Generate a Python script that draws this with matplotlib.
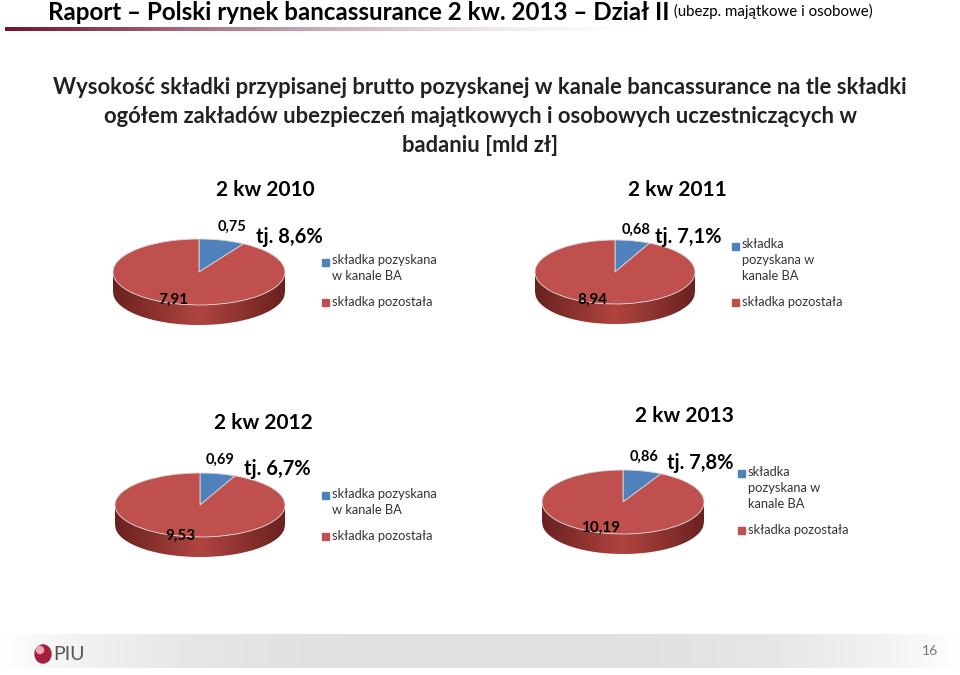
import matplotlib
matplotlib.use("Agg")
import matplotlib.pyplot as plt
from matplotlib.patches import Rectangle, Polygon, Ellipse
from matplotlib.colors import LinearSegmentedColormap
import numpy as np

plt.rcParams['font.family'] = ['Lato', 'DejaVu Sans']

# ---- data ----
periods = ['2 kw 2010', '2 kw 2011', '2 kw 2012', '2 kw 2013']
premium_ba = [0.75, 0.68, 0.69, 0.86]
premium_other = [7.91, 8.94, 9.53, 10.19]
share_labels = ['tj. 8,6%', 'tj. 7,1%', 'tj. 6,7%', 'tj. 7,8%']
legend_ba = ['składka pozyskana\nw kanale BA', 'składka\npozyskana w\nkanale BA',
             'składka pozyskana\nw kanale BA', 'składka\npozyskana w\nkanale BA']
legend_other = 'składka pozostała'

title = 'Raport – Polski rynek bancassurance 2 kw. 2013 – Dział II'
title_small = ' (ubezp. majątkowe i osobowe)'
subtitle = ['Wysokość składki przypisanej brutto pozyskanej w kanale bancassurance na tle składki',
            'ogółem zakładów ubezpieczeń majątkowych i osobowych uczestniczących w',
            'badaniu [mld zł]']

BLUE = '#4f81bd'
RED = '#c0504d'
NARROW = ['Liberation Sans Narrow', 'Lato', 'DejaVu Sans']

# ---- layout (pixels) ----
W, H = 960, 675
# pie: centre x, centre y, half width, half height, depth
pies = [(199, 272, 86, 33, 20), (615, 272, 80, 32, 20),
        (200, 505, 85, 32, 20), (623, 502, 81, 32, 20)]
period_pos = [(265, 190), (677, 190), (263, 423), (684, 416)]
ba_off = [(33, -45), (21, -42), (20, -45), (21, -45)]
oth_off = [(-26, 28), (-23, 28), (-20, 31), (-22, 26)]
share_pos = [(256, 237), (655, 237), (244, 469), (667, 463)]
legend_pos = [(325, 262, 302), (735, 246, 302), (325, 495, 536), (741, 473, 530)]

fig = plt.figure(figsize=(W / 100, H / 100), dpi=100)
bg = fig.add_axes([0, 0, 1, 1])
bg.set_xlim(0, W)
bg.set_ylim(H, 0)
bg.axis('off')

# gradient rule under the title
rule = np.ones((1, 300, 4))
t = np.linspace(0, 1, 300)
rule[0, :, 0] = 0.45 + 0.55 * t
rule[0, :, 1] = 0.08 + 0.92 * t
rule[0, :, 2] = 0.18 + 0.82 * t
rule[0, :, 3] = 1 - t ** 1.5
bg.imshow(rule, extent=(5, 680, 31, 27), aspect='auto', zorder=1)

# footer band
band = np.ones((1, 400, 4))
u = np.linspace(-1, 1, 400)
g = 1 - 0.12 * (1 - np.abs(u) ** 3)
band[0, :, 0] = g
band[0, :, 1] = g
band[0, :, 2] = g
bg.imshow(band, extent=(0, W, 668, 634), aspect='auto', zorder=0)

side_cmap = LinearSegmentedColormap.from_list('side', ['#6a2220', '#b0443f', '#6a2220'])

for i, (cx, cy, a, b, d) in enumerate(pies):
    left = (cx - a) / W
    bottom = 1 - (cy + b + d) / H
    ax = fig.add_axes([left, bottom, 2 * a / W, (2 * b + d) / H])
    dd = d / b
    # side of the disc
    xs = np.linspace(-1, 1, 200)
    ytop = -np.sqrt(1 - xs ** 2)
    verts = np.column_stack([np.concatenate([xs, xs[::-1]]),
                             np.concatenate([ytop, ytop[::-1] - dd])])
    poly = Polygon(verts, closed=True, facecolor='none', edgecolor='none')
    ax.add_patch(poly)
    im = ax.imshow(np.linspace(0, 1, 200)[None, :], cmap=side_cmap,
                   extent=(-1, 1, -1 - dd, 0), aspect='auto', zorder=1)
    im.set_clip_path(poly)
    wedges, _ = ax.pie([premium_ba[i], premium_other[i]], colors=[BLUE, RED],
                       startangle=90, counterclock=False,
                       wedgeprops=dict(linewidth=0.6, edgecolor='#d9d9d9'))
    for w in wedges:
        w.set_zorder(2)
    ax.set_aspect('auto')
    ax.set_xlim(-1, 1)
    ax.set_ylim(-1 - dd, 1)
    ax.axis('off')

# overlay for all texts, above the pies
top = fig.add_axes([0, 0, 1, 1])
top.set_xlim(0, W)
top.set_ylim(H, 0)
top.axis('off')

tt = top.text(48, 13, title, fontsize=17.4, fontweight='bold', va='center', ha='left',
              color='black', family=NARROW)
top.annotate(title_small, xy=(1, 0.5), xycoords=tt, fontsize=10.8, va='center',
             ha='left', color='black', family=NARROW, xytext=(0, 1),
             textcoords='offset points')

for i, line in enumerate(subtitle):
    top.text(480, 87 + 29.5 * i, line, fontsize=15.8, fontweight='bold', ha='center',
             va='center', color='#222222')

top.add_patch(Ellipse((43, 654), 16, 18, color='#a3203f', zorder=2))
top.add_patch(Ellipse((40, 650), 7, 7, color='#e9a6b5', zorder=3))
top.text(53, 655, 'PIU', fontsize=14, va='center', ha='left', color='#555555',
         family=NARROW)
top.text(930, 651, '16', fontsize=10, va='center', ha='center', color='#777777')

for i, (cx, cy, a, b, d) in enumerate(pies):
    bx, by = ba_off[i]
    ox, oy = oth_off[i]
    top.text(cx + bx, cy + by, f'{premium_ba[i]:.2f}'.replace('.', ','), fontsize=10.5,
             fontweight='bold', ha='center', va='center')
    top.text(cx + ox, cy + oy, f'{premium_other[i]:.2f}'.replace('.', ','), fontsize=11,
             fontweight='bold', ha='center', va='center')
    sx, sy = share_pos[i]
    top.text(sx, sy, share_labels[i], fontsize=14.5, fontweight='bold', ha='left', va='center')
    px, py = period_pos[i]
    top.text(px, py, periods[i], fontsize=15, fontweight='bold', ha='center', va='center')

    # legend
    lx, ly1, ly2 = legend_pos[i]
    top.add_patch(Rectangle((lx - 3.5, ly1 - 3.5), 7, 7, color=BLUE))
    top.add_patch(Rectangle((lx - 3.5, ly2 - 3.5), 7, 7, color=RED))
    top.text(lx + 7, ly1 - 7.5, legend_ba[i], fontsize=9.3, ha='left', va='top',
             linespacing=1.4, color='#333333')
    top.text(lx + 7, ly2, legend_other, fontsize=9.3, ha='left', va='center',
             color='#333333')

fig.savefig('out.png', dpi=100)
